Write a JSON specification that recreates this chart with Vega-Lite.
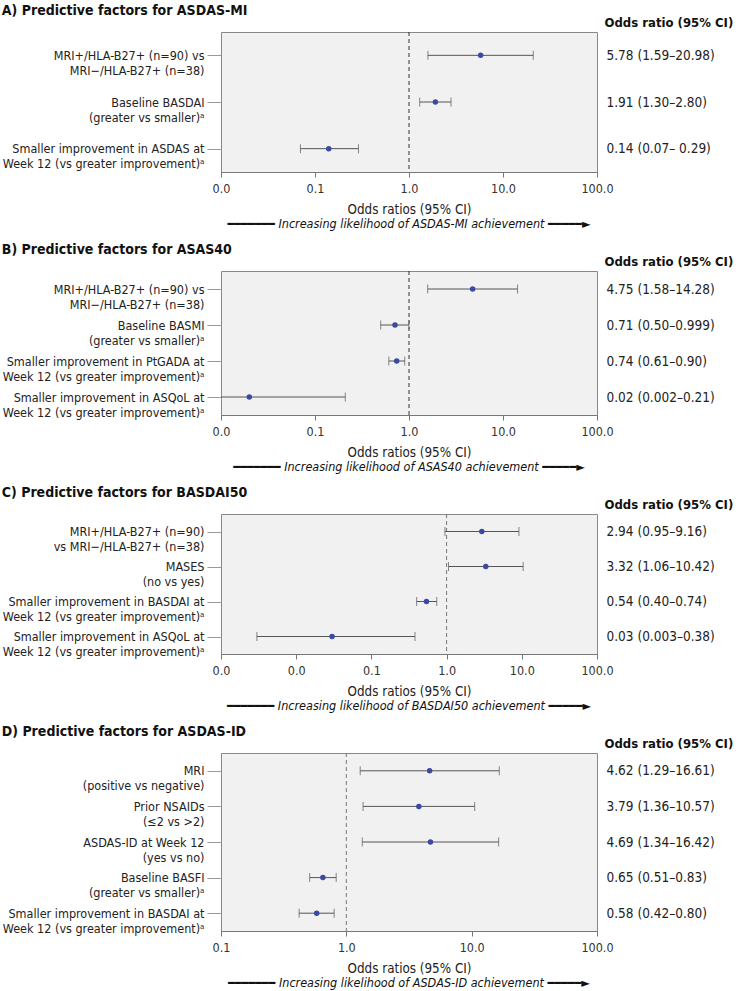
{
  "$schema": "https://vega.github.io/schema/vega-lite/v6.json",
  "padding": {"left": 1, "top": 3, "right": 0, "bottom": 0},
  "background": "white",
  "datasets": {
    "forest": [
      {"panel": "A", "order": 1, "label": "MRI+/HLA-B27+ (n=90) vs|MRI−/HLA-B27+ (n=38)", "or": 5.78, "lo": 1.59, "hi": 20.98, "ortext": "5.78 (1.59–20.98)"},
      {"panel": "A", "order": 2, "label": "Baseline BASDAI|(greater vs smaller)ᵃ", "or": 1.91, "lo": 1.30, "hi": 2.80, "ortext": "1.91 (1.30–2.80)"},
      {"panel": "A", "order": 3, "label": "Smaller improvement in ASDAS at|Week 12 (vs greater improvement)ᵃ", "or": 0.14, "lo": 0.07, "hi": 0.29, "ortext": "0.14 (0.07– 0.29)"},
      {"panel": "B", "order": 1, "label": "MRI+/HLA-B27+ (n=90) vs|MRI−/HLA-B27+ (n=38)", "or": 4.75, "lo": 1.58, "hi": 14.28, "ortext": "4.75 (1.58–14.28)"},
      {"panel": "B", "order": 2, "label": "Baseline BASMI|(greater vs smaller)ᵃ", "or": 0.71, "lo": 0.50, "hi": 0.999, "ortext": "0.71 (0.50–0.999)"},
      {"panel": "B", "order": 3, "label": "Smaller improvement in PtGADA at|Week 12 (vs greater improvement)ᵃ", "or": 0.74, "lo": 0.61, "hi": 0.90, "ortext": "0.74 (0.61–0.90)"},
      {"panel": "B", "order": 4, "label": "Smaller improvement in ASQoL at|Week 12 (vs greater improvement)ᵃ", "or": 0.02, "lo": 0.002, "hi": 0.21, "ortext": "0.02 (0.002–0.21)"},
      {"panel": "C", "order": 1, "label": "MRI+/HLA-B27+ (n=90)|vs MRI−/HLA-B27+ (n=38)", "or": 2.94, "lo": 0.95, "hi": 9.16, "ortext": "2.94 (0.95–9.16)"},
      {"panel": "C", "order": 2, "label": "MASES|(no vs yes)", "or": 3.32, "lo": 1.06, "hi": 10.42, "ortext": "3.32 (1.06–10.42)"},
      {"panel": "C", "order": 3, "label": "Smaller improvement in BASDAI at|Week 12 (vs greater improvement)ᵃ", "or": 0.54, "lo": 0.40, "hi": 0.74, "ortext": "0.54 (0.40–0.74)"},
      {"panel": "C", "order": 4, "label": "Smaller improvement in ASQoL at|Week 12 (vs greater improvement)ᵃ", "or": 0.03, "lo": 0.003, "hi": 0.38, "ortext": "0.03 (0.003–0.38)"},
      {"panel": "D", "order": 1, "label": "MRI|(positive vs negative)", "or": 4.62, "lo": 1.29, "hi": 16.61, "ortext": "4.62 (1.29–16.61)"},
      {"panel": "D", "order": 2, "label": "Prior NSAIDs|(≤2 vs >2)", "or": 3.79, "lo": 1.36, "hi": 10.57, "ortext": "3.79 (1.36–10.57)"},
      {"panel": "D", "order": 3, "label": "ASDAS-ID at Week 12|(yes vs no)", "or": 4.69, "lo": 1.34, "hi": 16.42, "ortext": "4.69 (1.34–16.42)"},
      {"panel": "D", "order": 4, "label": "Baseline BASFI|(greater vs smaller)ᵃ", "or": 0.65, "lo": 0.51, "hi": 0.83, "ortext": "0.65 (0.51–0.83)"},
      {"panel": "D", "order": 5, "label": "Smaller improvement in BASDAI at|Week 12 (vs greater improvement)ᵃ", "or": 0.58, "lo": 0.42, "hi": 0.80, "ortext": "0.58 (0.42–0.80)"}
    ],
    "ref": [{"v": 1}]
  },
  "spacing": 11,
  "vconcat": [
    {
      "title": {"text": "A) Predictive factors for ASDAS-MI"},
      "vconcat": [{
        "title": {"text": "━━━━━━━  Increasing likelihood of ASDAS-MI achievement ━━━━━►", "orient": "bottom", "frame": "group", "anchor": "middle", "fontStyle": "italic", "fontWeight": "normal", "fontSize": 12.5, "color": "#111", "offset": 2},
        "width": 376, "height": 140,
        "data": {"name": "forest"},
        "transform": [{"filter": "datum.panel == 'A'"}],
        "resolve": {"scale": {"y": "independent"}},
        "layer": [
          {"layer": [
            {"data": {"name": "ref"}, "mark": {"type": "rule", "strokeDash": [4, 3], "color": "#333", "strokeWidth": 1},
             "encoding": {"x": {"field": "v", "type": "quantitative", "title": "Odds ratios (95% CI)", "scale": {"type": "log", "domain": [0.01, 100], "nice": false}, "axis": {"values": [0.01, 0.1, 1, 10, 100], "title": "Odds ratios (95% CI)"}}}},
            {"mark": {"type": "rule", "color": "#555", "clip": true},
             "encoding": {"y": {"field": "label", "type": "nominal", "title": null, "sort": {"field": "order", "op": "min"}, "scale": {"type": "point", "padding": 0.5}},
                          "x": {"field": "lo", "type": "quantitative", "title": "Odds ratios (95% CI)"}, "x2": {"field": "hi"}}},
            {"mark": {"type": "tick", "color": "#555", "size": 9, "thickness": 1, "clip": true},
             "encoding": {"y": {"field": "label", "type": "nominal", "title": null, "sort": {"field": "order", "op": "min"}}, "x": {"field": "lo", "type": "quantitative", "title": "Odds ratios (95% CI)"}}},
            {"mark": {"type": "tick", "color": "#555", "size": 9, "thickness": 1, "clip": true},
             "encoding": {"y": {"field": "label", "type": "nominal", "title": null, "sort": {"field": "order", "op": "min"}}, "x": {"field": "hi", "type": "quantitative", "title": "Odds ratios (95% CI)"}}}
          ]},
          {"mark": {"type": "point", "filled": true, "size": 30, "color": "#3a4aa0", "opacity": 1},
           "encoding": {"y": {"field": "ortext", "type": "nominal", "sort": {"field": "order", "op": "min"}, "scale": {"type": "point", "padding": 0.5}, "axis": {"orient": "right", "title": "Odds ratio (95% CI)"}},
                        "x": {"field": "or", "type": "quantitative", "title": "Odds ratios (95% CI)", "scale": {"type": "log", "domain": [0.01, 100], "nice": false}}}}
        ]
      }]
    },
    {
      "title": {"text": "B) Predictive factors for ASAS40"},
      "vconcat": [{
        "title": {"text": "━━━━━━━  Increasing likelihood of ASAS40 achievement   ━━━━━►", "orient": "bottom", "frame": "group", "anchor": "middle", "fontStyle": "italic", "fontWeight": "normal", "fontSize": 12.5, "color": "#111", "offset": 2},
        "width": 376, "height": 144,
        "data": {"name": "forest"},
        "transform": [{"filter": "datum.panel == 'B'"}],
        "resolve": {"scale": {"y": "independent"}},
        "layer": [
          {"layer": [
            {"data": {"name": "ref"}, "mark": {"type": "rule", "strokeDash": [4, 3], "color": "#333", "strokeWidth": 1},
             "encoding": {"x": {"field": "v", "type": "quantitative", "title": "Odds ratios (95% CI)", "scale": {"type": "log", "domain": [0.01, 100], "nice": false}, "axis": {"values": [0.01, 0.1, 1, 10, 100], "title": "Odds ratios (95% CI)"}}}},
            {"mark": {"type": "rule", "color": "#555", "clip": true},
             "encoding": {"y": {"field": "label", "type": "nominal", "title": null, "sort": {"field": "order", "op": "min"}, "scale": {"type": "point", "padding": 0.5}},
                          "x": {"field": "lo", "type": "quantitative", "title": "Odds ratios (95% CI)"}, "x2": {"field": "hi"}}},
            {"mark": {"type": "tick", "color": "#555", "size": 9, "thickness": 1, "clip": true},
             "encoding": {"y": {"field": "label", "type": "nominal", "title": null, "sort": {"field": "order", "op": "min"}}, "x": {"field": "lo", "type": "quantitative", "title": "Odds ratios (95% CI)"}}},
            {"mark": {"type": "tick", "color": "#555", "size": 9, "thickness": 1, "clip": true},
             "encoding": {"y": {"field": "label", "type": "nominal", "title": null, "sort": {"field": "order", "op": "min"}}, "x": {"field": "hi", "type": "quantitative", "title": "Odds ratios (95% CI)"}}}
          ]},
          {"mark": {"type": "point", "filled": true, "size": 30, "color": "#3a4aa0", "opacity": 1},
           "encoding": {"y": {"field": "ortext", "type": "nominal", "sort": {"field": "order", "op": "min"}, "scale": {"type": "point", "padding": 0.5}, "axis": {"orient": "right", "title": "Odds ratio (95% CI)"}},
                        "x": {"field": "or", "type": "quantitative", "title": "Odds ratios (95% CI)", "scale": {"type": "log", "domain": [0.01, 100], "nice": false}}}}
        ]
      }]
    },
    {
      "title": {"text": "C) Predictive factors for BASDAI50"},
      "vconcat": [{
        "title": {"text": "━━━━━━━  Increasing likelihood of BASDAI50 achievement ━━━━━►", "orient": "bottom", "frame": "group", "anchor": "middle", "fontStyle": "italic", "fontWeight": "normal", "fontSize": 12.5, "color": "#111", "offset": 2},
        "width": 376, "height": 140,
        "data": {"name": "forest"},
        "transform": [{"filter": "datum.panel == 'C'"}],
        "resolve": {"scale": {"y": "independent"}},
        "layer": [
          {"layer": [
            {"data": {"name": "ref"}, "mark": {"type": "rule", "strokeDash": [4, 3], "color": "#777", "strokeWidth": 1},
             "encoding": {"x": {"field": "v", "type": "quantitative", "title": "Odds ratios (95% CI)", "scale": {"type": "log", "domain": [0.001, 100], "nice": false}, "axis": {"values": [0.001, 0.01, 0.1, 1, 10, 100], "title": "Odds ratios (95% CI)"}}}},
            {"mark": {"type": "rule", "color": "#555", "clip": true},
             "encoding": {"y": {"field": "label", "type": "nominal", "title": null, "sort": {"field": "order", "op": "min"}, "scale": {"type": "point", "padding": 0.5}},
                          "x": {"field": "lo", "type": "quantitative", "title": "Odds ratios (95% CI)"}, "x2": {"field": "hi"}}},
            {"mark": {"type": "tick", "color": "#555", "size": 9, "thickness": 1, "clip": true},
             "encoding": {"y": {"field": "label", "type": "nominal", "title": null, "sort": {"field": "order", "op": "min"}}, "x": {"field": "lo", "type": "quantitative", "title": "Odds ratios (95% CI)"}}},
            {"mark": {"type": "tick", "color": "#555", "size": 9, "thickness": 1, "clip": true},
             "encoding": {"y": {"field": "label", "type": "nominal", "title": null, "sort": {"field": "order", "op": "min"}}, "x": {"field": "hi", "type": "quantitative", "title": "Odds ratios (95% CI)"}}}
          ]},
          {"mark": {"type": "point", "filled": true, "size": 30, "color": "#3a4aa0", "opacity": 1},
           "encoding": {"y": {"field": "ortext", "type": "nominal", "sort": {"field": "order", "op": "min"}, "scale": {"type": "point", "padding": 0.5}, "axis": {"orient": "right", "title": "Odds ratio (95% CI)"}},
                        "x": {"field": "or", "type": "quantitative", "title": "Odds ratios (95% CI)", "scale": {"type": "log", "domain": [0.001, 100], "nice": false}}}}
        ]
      }]
    },
    {
      "title": {"text": "D) Predictive factors for ASDAS-ID"},
      "vconcat": [{
        "title": {"text": "━━━━━━━  Increasing likelihood of ASDAS-ID achievement ━━━━━►", "orient": "bottom", "frame": "group", "anchor": "middle", "fontStyle": "italic", "fontWeight": "normal", "fontSize": 12.5, "color": "#111", "offset": 2},
        "width": 376, "height": 178,
        "data": {"name": "forest"},
        "transform": [{"filter": "datum.panel == 'D'"}],
        "resolve": {"scale": {"y": "independent"}},
        "layer": [
          {"layer": [
            {"data": {"name": "ref"}, "mark": {"type": "rule", "strokeDash": [4, 3], "color": "#777", "strokeWidth": 1},
             "encoding": {"x": {"field": "v", "type": "quantitative", "title": "Odds ratios (95% CI)", "scale": {"type": "log", "domain": [0.1, 100], "nice": false}, "axis": {"values": [0.1, 1, 10, 100], "title": "Odds ratios (95% CI)"}}}},
            {"mark": {"type": "rule", "color": "#555", "clip": true},
             "encoding": {"y": {"field": "label", "type": "nominal", "title": null, "sort": {"field": "order", "op": "min"}, "scale": {"type": "point", "padding": 0.5}},
                          "x": {"field": "lo", "type": "quantitative", "title": "Odds ratios (95% CI)"}, "x2": {"field": "hi"}}},
            {"mark": {"type": "tick", "color": "#555", "size": 9, "thickness": 1, "clip": true},
             "encoding": {"y": {"field": "label", "type": "nominal", "title": null, "sort": {"field": "order", "op": "min"}}, "x": {"field": "lo", "type": "quantitative", "title": "Odds ratios (95% CI)"}}},
            {"mark": {"type": "tick", "color": "#555", "size": 9, "thickness": 1, "clip": true},
             "encoding": {"y": {"field": "label", "type": "nominal", "title": null, "sort": {"field": "order", "op": "min"}}, "x": {"field": "hi", "type": "quantitative", "title": "Odds ratios (95% CI)"}}}
          ]},
          {"mark": {"type": "point", "filled": true, "size": 30, "color": "#3a4aa0", "opacity": 1},
           "encoding": {"y": {"field": "ortext", "type": "nominal", "sort": {"field": "order", "op": "min"}, "scale": {"type": "point", "padding": 0.5}, "axis": {"orient": "right", "title": "Odds ratio (95% CI)"}},
                        "x": {"field": "or", "type": "quantitative", "title": "Odds ratios (95% CI)", "scale": {"type": "log", "domain": [0.1, 100], "nice": false}}}}
        ]
      }]
    }
  ],
  "config": {
    "font": "DejaVu Sans Condensed",
    "view": {"fill": "#f1f1f1", "stroke": "#888", "strokeWidth": 1},
    "title": {"anchor": "start", "frame": "bounds", "fontSize": 14, "fontWeight": "bold", "color": "#111", "offset": -2},
    "axisX": {"format": ".1f", "grid": false, "tickSize": 5, "tickColor": "#777", "domainColor": "#777", "labelFontSize": 12.5, "labelColor": "#333", "labelPadding": 5, "labelFlush": false, "titleFontWeight": "normal", "titleFontSize": 13.3, "titleColor": "#222", "titlePadding": 8},
    "axisLeft": {"grid": false, "domain": false, "tickSize": 14, "tickColor": "#999", "labelPadding": 3, "labelFontSize": 12.5, "labelColor": "#222", "labelLineHeight": 15, "labelExpr": "split(datum.label, '|')", "labelLimit": 300},
    "axisRight": {"grid": false, "domain": false, "ticks": false, "labelPadding": 9, "labelFontSize": 13.5, "labelColor": "#222", "labelLimit": 300, "titleAngle": 0, "titleAlign": "left", "titleBaseline": "middle", "titleX": 7, "titleY": -10, "titleFontWeight": "bold", "titleFontSize": 13, "titleColor": "#111"}
  }
}
